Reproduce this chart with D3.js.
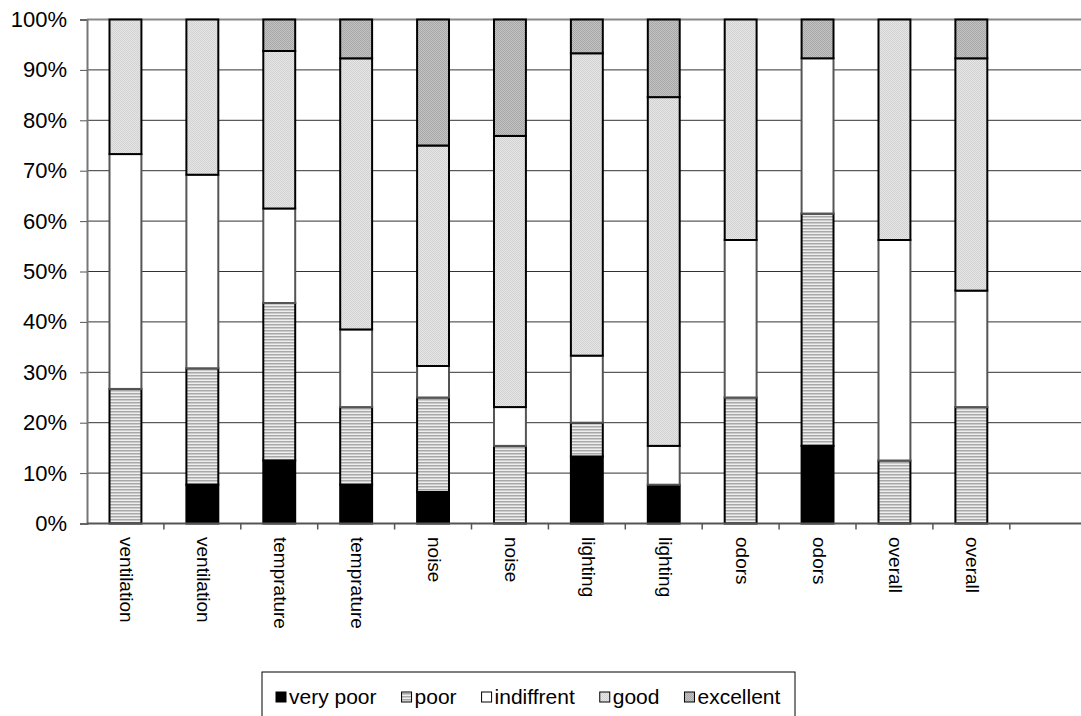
<!DOCTYPE html>
<html><head><meta charset="utf-8">
<script src="https://cdn.jsdelivr.net/npm/d3@7"></script>
<style>body{margin:0;background:#fff}svg{display:block;font-family:"Liberation Sans",Arial,sans-serif}</style>
</head><body><svg id="c" width="1081" height="716"></svg>
<script>
const categories = ["ventilation","ventilation","temprature","temprature","noise","noise","lighting","lighting","odors","odors","overall","overall",""];
const seriesNames = ["very poor","poor","indiffrent","good","excellent"];
const veryPoor   = [0,   7.7, 12.5, 7.7,  6.25, 0,    13.3, 7.7, 0,     15.4, 0,     0,    0];
const poor       = [26.7,23.1,31.25,15.4, 18.75,15.4, 6.7,  0,   25,    46.1, 12.5,  23.1, 0];
const indiffrent = [46.6,38.4,18.75,15.4, 6.25, 7.7,  13.3, 7.7, 31.25, 30.8, 43.75, 23.1, 0];
const good       = [26.7,30.8,31.25,53.8, 43.75,53.8, 60.0, 69.2,43.75, 0,    43.75, 46.1, 0];
const excellent  = [0,   0,   6.25, 7.7,  25,   23.1, 6.7,  15.4,0,     7.7,  0,     7.7,  0];
const yTicks = [0,10,20,30,40,50,60,70,80,90,100];

(function(){
const svg = d3.select("#c");
const defs = svg.append("defs");
const pPoor = defs.append("pattern").attr("id","pPoor").attr("patternUnits","userSpaceOnUse").attr("width",4).attr("height",3);
pPoor.append("rect").attr("width",4).attr("height",3).attr("fill","#eeeeee");
pPoor.append("rect").attr("width",4).attr("height",1.5).attr("fill","#a8a8a8");
function dots(id, bg, fg){
  const p = defs.append("pattern").attr("id",id).attr("patternUnits","userSpaceOnUse").attr("width",2).attr("height",2);
  p.append("rect").attr("width",2).attr("height",2).attr("fill",bg);
  p.append("rect").attr("width",1).attr("height",1).attr("fill",fg);
  p.append("rect").attr("x",1).attr("y",1).attr("width",1).attr("height",1).attr("fill",fg);
}
dots("pGood","#e6e6e6","#d2d2d2");
dots("pExc","#c4c4c4","#a6a6a6");
const fills = ["#000","url(#pPoor)","#fff","url(#pGood)","url(#pExc)"];
const strokes = ["#000","#000","#555","#000","#000"];

const left = 87, bottom = 523.5, topY = 19.5, step = 76.9;
const x = d3.scaleBand().domain(d3.range(categories.length)).range([left, left + step*categories.length]).paddingInner(0.585).paddingOuter(0.2925);
const y = d3.scaleLinear().domain([0,100]).range([bottom, topY]);

svg.append("g").selectAll("line").data(yTicks.filter(d=>d>0)).join("line")
  .attr("x1",left).attr("x2",1081).attr("y1",d=>y(d)).attr("y2",d=>y(d))
  .attr("stroke",d=>d===100?"#888":"#333").attr("stroke-width",d=>d===100?2:1);

const rows = categories.map((c,i)=>({i, "very poor":veryPoor[i], poor:poor[i], indiffrent:indiffrent[i], good:good[i], excellent:excellent[i]}));
const stack = d3.stack().keys(seriesNames)(rows);
stack.forEach((s,si)=>{
  svg.append("g").selectAll("rect").data(s.filter(d=>d[1]-d[0]>0)).join("rect")
    .attr("x",d=>x(d.data.i)).attr("width",x.bandwidth())
    .attr("y",d=>y(d[1])).attr("height",d=>y(d[0])-y(d[1]))
    .attr("fill",fills[si]).attr("stroke",strokes[si]).attr("stroke-width",2);
});

const yAxis = svg.append("g").attr("transform",`translate(${left},0)`)
  .call(d3.axisLeft(y).tickValues(yTicks).tickFormat(d=>d+"%").tickSize(7).tickPadding(13));
yAxis.select(".domain").attr("stroke","#777").attr("stroke-width",2);
yAxis.selectAll(".tick line").attr("stroke","#555");
yAxis.selectAll("text").attr("font-size",22).attr("fill","#000").attr("font-family","Liberation Sans, Arial, sans-serif");

svg.append("line").attr("x1",left).attr("x2",1081).attr("y1",bottom).attr("y2",bottom).attr("stroke","#555").attr("stroke-width",2);
svg.append("g").selectAll("line").data(d3.range(1,categories.length)).join("line")
  .attr("x1",d=>left+d*x.step()).attr("x2",d=>left+d*x.step())
  .attr("y1",bottom).attr("y2",bottom+6).attr("stroke","#555").attr("stroke-width",1.5);

svg.append("g").selectAll("text").data(categories.map((c,i)=>({c,i})).filter(d=>d.c)).join("text")
  .attr("transform",d=>`translate(${x(d.i)+x.bandwidth()/2},537) rotate(90)`)
  .attr("dominant-baseline","middle").attr("font-size",19).text(d=>d.c);

const lg = svg.append("g").attr("transform","translate(262,672)");
lg.append("rect").attr("width",533).attr("height",50).attr("fill","#fff").attr("stroke","#000").attr("stroke-width",1);
let cx = 14;
seriesNames.forEach((n,i)=>{
  lg.append("rect").attr("x",cx).attr("y",20).attr("width",10).attr("height",10)
    .attr("fill",fills[i]).attr("stroke","#000").attr("stroke-width",1);
  const t = lg.append("text").attr("x",cx+13).attr("y",31.5).attr("font-size",21).text(n);
  cx += 13 + t.node().getComputedTextLength() + 25;
});
})();
</script></body></html>
